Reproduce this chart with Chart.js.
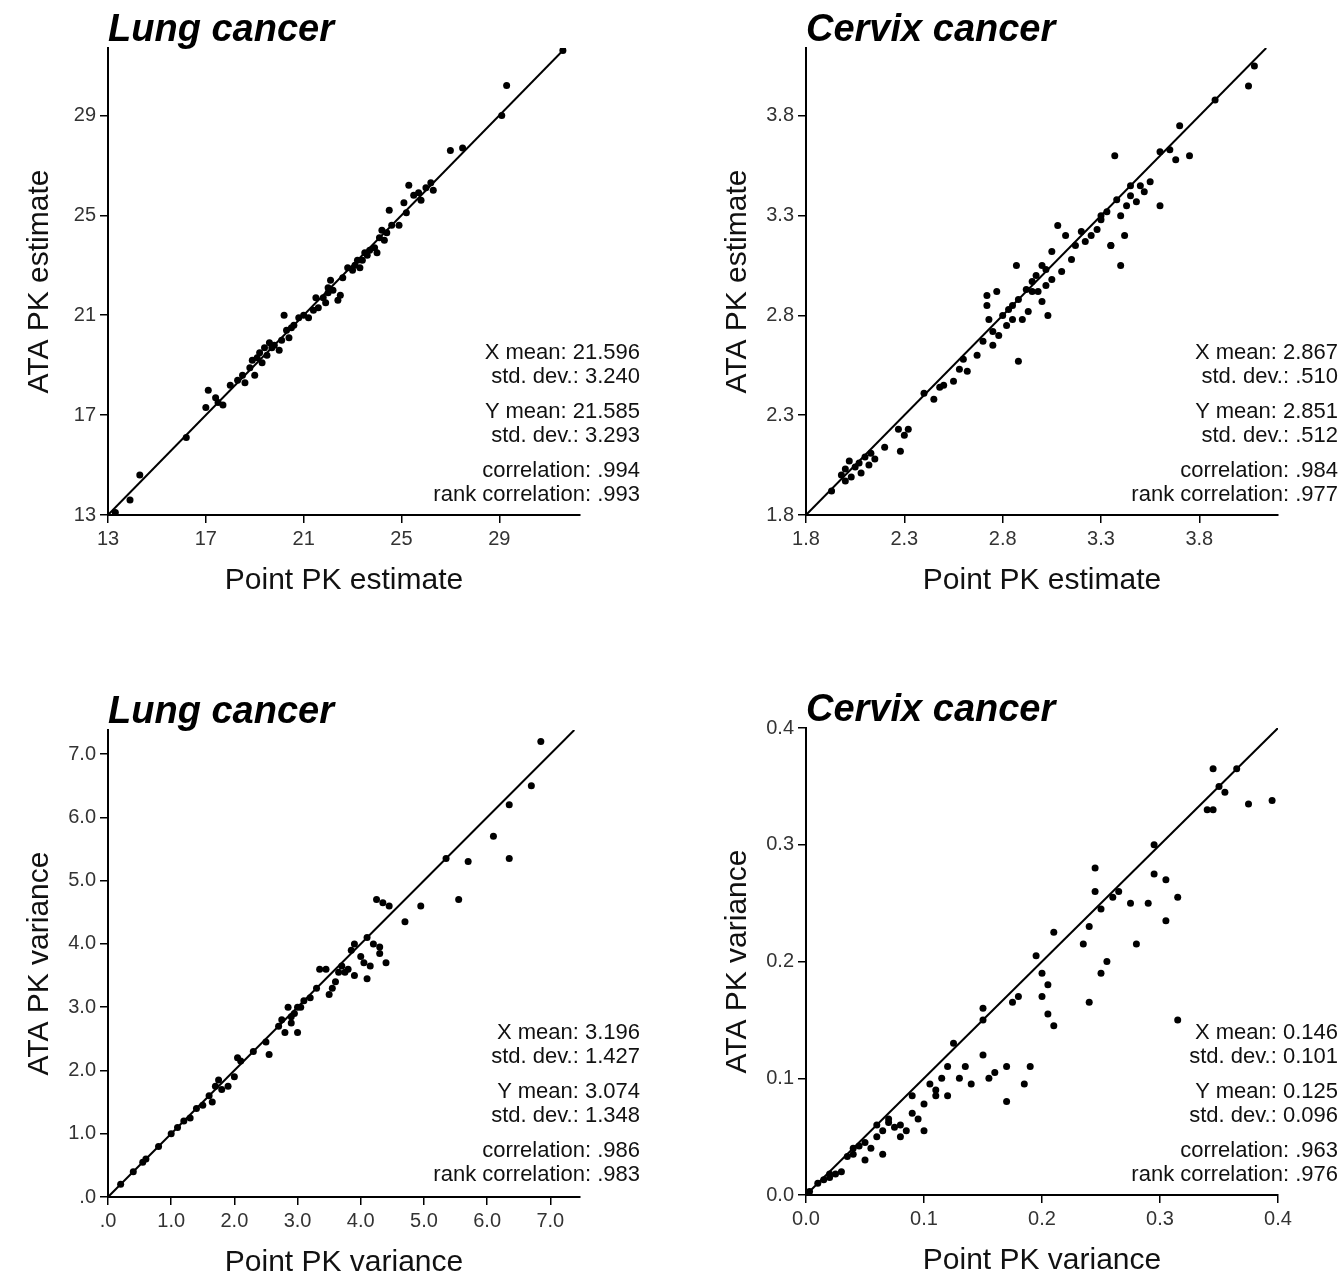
<!DOCTYPE html>
<html><head><meta charset="utf-8">
<script src="https://cdn.jsdelivr.net/npm/chart.js@4.4.0/dist/chart.umd.min.js"></script>
<style>
body{margin:0;background:#fff;font-family:"Liberation Sans",Arial,sans-serif;}
.panel{position:absolute;width:670px;height:605px;}
.panel canvas{position:absolute;left:0;top:0;}
.ttl{position:absolute;left:108px;top:7px;font-size:38px;font-weight:bold;font-style:italic;color:#000;}
.stats{position:absolute;right:30px;text-align:right;font-size:22px;line-height:24px;color:#111;}
.stats div.g{margin-bottom:11px;}
</style></head><body>
<script>
// Lung cancer, PK estimate
const lungEstX=[13.3,13.9,14.3,16.2,17.0,17.1,17.4,17.5,17.7,18.0,18.3,18.5,18.6,18.8,18.9,19.0,19.1,19.2,19.3,19.4,19.5,19.6,19.8,20.0,20.1,20.2,20.3,20.4,20.6,20.8,21.0,21.2,21.4,21.5,21.6,21.8,22.0,22.1,22.2,22.4,22.5,22.6,22.8,23.0,23.1,23.3,23.4,23.5,23.7,23.9,24.0,24.1,24.2,24.3,24.4,24.5,24.9,25.1,25.2,25.3,25.5,25.7,25.8,26.0,26.2,26.3,27.0,27.5,29.1,29.3,31.6,22.0,23.2,21.9,23.6,20.5,19.7,24.6];
const lungEstY=[13.1,13.6,14.6,16.1,17.3,18.0,17.7,17.5,17.4,18.2,18.4,18.6,18.3,18.9,19.2,18.6,19.3,19.5,19.1,19.7,19.4,19.9,19.8,19.6,20.0,21.0,20.4,20.1,20.6,20.9,21.0,20.9,21.2,21.7,21.3,21.7,21.9,22.4,22.0,21.6,21.8,22.5,22.9,22.8,23.0,22.9,23.2,23.5,23.6,23.7,23.5,24.1,24.4,24.0,24.3,25.2,24.6,25.5,25.1,26.2,25.8,25.9,25.6,26.1,26.3,26.0,27.6,27.7,29.0,30.2,31.6,22.1,23.2,21.5,23.4,20.5,19.7,24.6];
// Cervix cancer, PK estimate
const cervEstX=[1.93,1.98,2.0,2.0,2.02,2.03,2.05,2.07,2.08,2.1,2.12,2.13,2.15,2.2,2.27,2.28,2.3,2.32,2.4,2.45,2.48,2.5,2.55,2.58,2.6,2.62,2.67,2.7,2.72,2.72,2.73,2.75,2.77,2.78,2.8,2.82,2.83,2.85,2.87,2.88,2.88,2.9,2.92,2.93,2.95,2.97,2.98,3.0,3.0,3.02,3.03,3.05,3.05,3.08,3.1,3.15,3.17,3.2,3.22,3.25,3.28,3.3,3.33,3.35,3.37,3.38,3.4,3.4,3.42,3.43,3.45,3.48,3.5,3.52,3.55,3.6,3.6,3.65,3.68,3.7,3.75,3.88,4.05,4.08,3.35,3.02,2.95,2.85,2.75,3.12,3.45,3.3];
const cervEstY=[1.92,2.0,2.03,1.97,2.07,1.99,2.04,2.06,2.01,2.09,2.05,2.11,2.08,2.14,2.23,2.12,2.2,2.23,2.41,2.38,2.44,2.45,2.47,2.53,2.58,2.52,2.6,2.67,2.9,2.85,2.78,2.72,2.92,2.7,2.8,2.75,2.83,2.85,3.05,2.88,2.57,2.78,2.93,2.82,2.97,3.0,2.92,3.05,2.87,2.95,2.8,3.12,2.98,3.25,3.02,3.08,3.15,3.22,3.17,3.2,3.23,3.28,3.32,3.15,3.6,3.38,3.05,3.3,3.2,3.35,3.4,3.37,3.45,3.42,3.47,3.35,3.62,3.63,3.58,3.75,3.6,3.88,3.95,4.05,3.15,3.03,2.92,2.78,2.65,3.2,3.45,3.3];
// Lung cancer, PK variance
const lungVarX=[0.2,0.4,0.55,0.6,0.8,1.0,1.1,1.2,1.3,1.4,1.5,1.6,1.65,1.7,1.75,1.8,1.9,2.0,2.05,2.1,2.3,2.5,2.55,2.7,2.75,2.8,2.85,2.9,2.95,3.0,3.05,3.1,3.2,3.3,3.35,3.45,3.5,3.55,3.6,3.7,3.75,3.8,3.85,3.9,3.9,4.0,4.05,4.1,4.1,4.15,4.25,4.3,4.35,4.4,4.45,4.7,4.95,5.35,5.55,5.7,6.1,6.35,6.35,6.7,6.85,4.2,3.65,2.9,3.0,4.3];
const lungVarY=[0.2,0.4,0.55,0.6,0.8,1.0,1.1,1.2,1.25,1.4,1.45,1.6,1.5,1.75,1.85,1.7,1.75,1.9,2.2,2.15,2.3,2.45,2.25,2.7,2.8,2.6,3.0,2.75,2.9,2.6,3.0,3.1,3.15,3.3,3.6,3.6,3.2,3.3,3.4,3.65,3.55,3.6,3.9,3.5,4.0,3.8,3.7,3.45,4.1,3.65,4.7,3.85,4.65,3.7,4.6,4.35,4.6,5.35,4.7,5.3,5.7,5.35,6.2,6.5,7.2,4.0,3.55,2.85,3.0,3.95];
// Cervix cancer, PK variance
const cervVarX=[0.003,0.01,0.015,0.02,0.025,0.03,0.035,0.04,0.045,0.05,0.05,0.055,0.06,0.065,0.065,0.07,0.075,0.08,0.08,0.085,0.09,0.09,0.095,0.1,0.1,0.105,0.11,0.11,0.115,0.12,0.12,0.125,0.13,0.135,0.14,0.15,0.15,0.15,0.155,0.16,0.17,0.17,0.175,0.18,0.185,0.19,0.195,0.2,0.2,0.205,0.205,0.21,0.21,0.235,0.24,0.24,0.245,0.245,0.25,0.25,0.255,0.26,0.265,0.275,0.28,0.29,0.295,0.295,0.305,0.305,0.315,0.315,0.34,0.345,0.345,0.35,0.355,0.365,0.375,0.395,0.02,0.04,0.06,0.07];
const cervVarY=[0.003,0.01,0.013,0.015,0.018,0.02,0.033,0.035,0.042,0.045,0.03,0.04,0.05,0.055,0.035,0.062,0.058,0.06,0.05,0.055,0.07,0.085,0.065,0.078,0.055,0.095,0.09,0.085,0.1,0.11,0.085,0.13,0.1,0.11,0.095,0.15,0.16,0.12,0.1,0.105,0.11,0.08,0.165,0.17,0.095,0.11,0.205,0.19,0.17,0.18,0.155,0.145,0.225,0.215,0.23,0.165,0.26,0.28,0.245,0.19,0.2,0.255,0.26,0.25,0.215,0.25,0.3,0.275,0.27,0.235,0.255,0.15,0.33,0.365,0.33,0.35,0.345,0.365,0.335,0.338,0.018,0.04,0.06,0.065];

const lungEstTicks=[13,17,21,25,29];
const lungEstLabels=['13','17','21','25','29'];
const cervEstTicks=[1.8,2.3,2.8,3.3,3.8];
const cervEstLabels=['1.8','2.3','2.8','3.3','3.8'];
const lungVarTicks=[0,1,2,3,4,5,6,7];
const lungVarLabels=['.0','1.0','2.0','3.0','4.0','5.0','6.0','7.0'];
const cervVarTicks=[0,0.1,0.2,0.3,0.4];
const cervVarLabels=['0.0','0.1','0.2','0.3','0.4'];

const panels=[
 {left:0,top:0,title:'Lung cancer',xt:'Point PK estimate',yt:'ATA PK estimate',xs:lungEstX,ys:lungEstY,
  xr:[13,32.3],yr:[13,31.7],tk:lungEstTicks,lb:lungEstLabels,line:[13,31.7],
  st:[['X mean: 21.596','std. dev.: 3.240'],['Y mean: 21.585','std. dev.: 3.293'],['correlation: .994','rank correlation: .993']],stTop:340},
 {left:698,top:0,title:'Cervix cancer',xt:'Point PK estimate',yt:'ATA PK estimate',xs:cervEstX,ys:cervEstY,
  xr:[1.8,4.2],yr:[1.8,4.14],tk:cervEstTicks,lb:cervEstLabels,line:[1.8,4.14],
  st:[['X mean: 2.867','std. dev.: .510'],['Y mean: 2.851','std. dev.: .512'],['correlation: .984','rank correlation: .977']],stTop:340},
 {left:0,top:682,title:'Lung cancer',xt:'Point PK variance',yt:'ATA PK variance',xs:lungVarX,ys:lungVarY,
  xr:[0,7.47],yr:[0,7.38],tk:lungVarTicks,lb:lungVarLabels,line:[0,7.38],
  st:[['X mean: 3.196','std. dev.: 1.427'],['Y mean: 3.074','std. dev.: 1.348'],['correlation: .986','rank correlation: .983']],stTop:338},
 {left:698,top:680,title:'Cervix cancer',xt:'Point PK variance',yt:'ATA PK variance',xs:cervVarX,ys:cervVarY,
  xr:[0,0.4],yr:[0,0.4],tk:cervVarTicks,lb:cervVarLabels,line:[0,0.4],
  st:[['X mean: 0.146','std. dev.: 0.101'],['Y mean: 0.125','std. dev.: 0.096'],['correlation: .963','rank correlation: .976']],stTop:340}
];

const tickFont={family:'"Liberation Sans", Arial, sans-serif',size:20};
const titleFont={family:'"Liberation Sans", Arial, sans-serif',size:30};

panels.forEach(p=>{
  const div=document.createElement('div');
  div.className='panel';
  div.style.left=p.left+'px';div.style.top=p.top+'px';
  const cv=document.createElement('canvas');
  cv.width=670;cv.height=605;cv.style.width='670px';cv.style.height='605px';
  div.appendChild(cv);
  const t=document.createElement('div');t.className='ttl';t.textContent=p.title;div.appendChild(t);
  const s=document.createElement('div');s.className='stats';s.style.top=p.stTop+'px';
  s.innerHTML=p.st.map(g=>'<div class="g">'+g.join('<br>')+'</div>').join('');
  div.appendChild(s);
  document.body.appendChild(div);

  const axis=(r,title,isX)=>({
    type:'linear',min:r[0],max:r[1],
    afterBuildTicks:a=>{a.ticks=p.tk.map(v=>({value:v}));},
    afterFit:a=>{ if(isX) a.height=90; else a.width=86; },
    ticks:{font:tickFont,color:'#333',padding:4,autoSkip:false,maxRotation:0,
      callback:v=>{const i=p.tk.findIndex(k=>Math.abs(k-v)<1e-9);return i>=0?p.lb[i]:'';}},
    grid:{drawOnChartArea:false,tickLength:8,color:'#000',lineWidth:1.5},
    border:{color:'#000',width:2},
    title:{display:true,text:title,font:titleFont,color:'#111',padding:{top:0,bottom:6}}
  });

  new Chart(cv,{
    type:'scatter',
    data:{datasets:[
      {data:p.xs.map((x,i)=>({x:x,y:p.ys[i]})),pointRadius:3.5,pointBackgroundColor:'#000',pointBorderWidth:0},
      {type:'line',data:[{x:p.line[0],y:p.line[0]},{x:p.line[1],y:p.line[1]}],borderColor:'#000',borderWidth:2,pointRadius:0}
    ]},
    options:{responsive:false,animation:false,
      layout:{padding:{top:48,right:90,left:22,bottom:0}},
      plugins:{legend:{display:false},tooltip:{enabled:false}},
      scales:{x:axis(p.xr,p.xt,true),y:axis(p.yr,p.yt,false)}
    }
  });
});
</script>
</body></html>
